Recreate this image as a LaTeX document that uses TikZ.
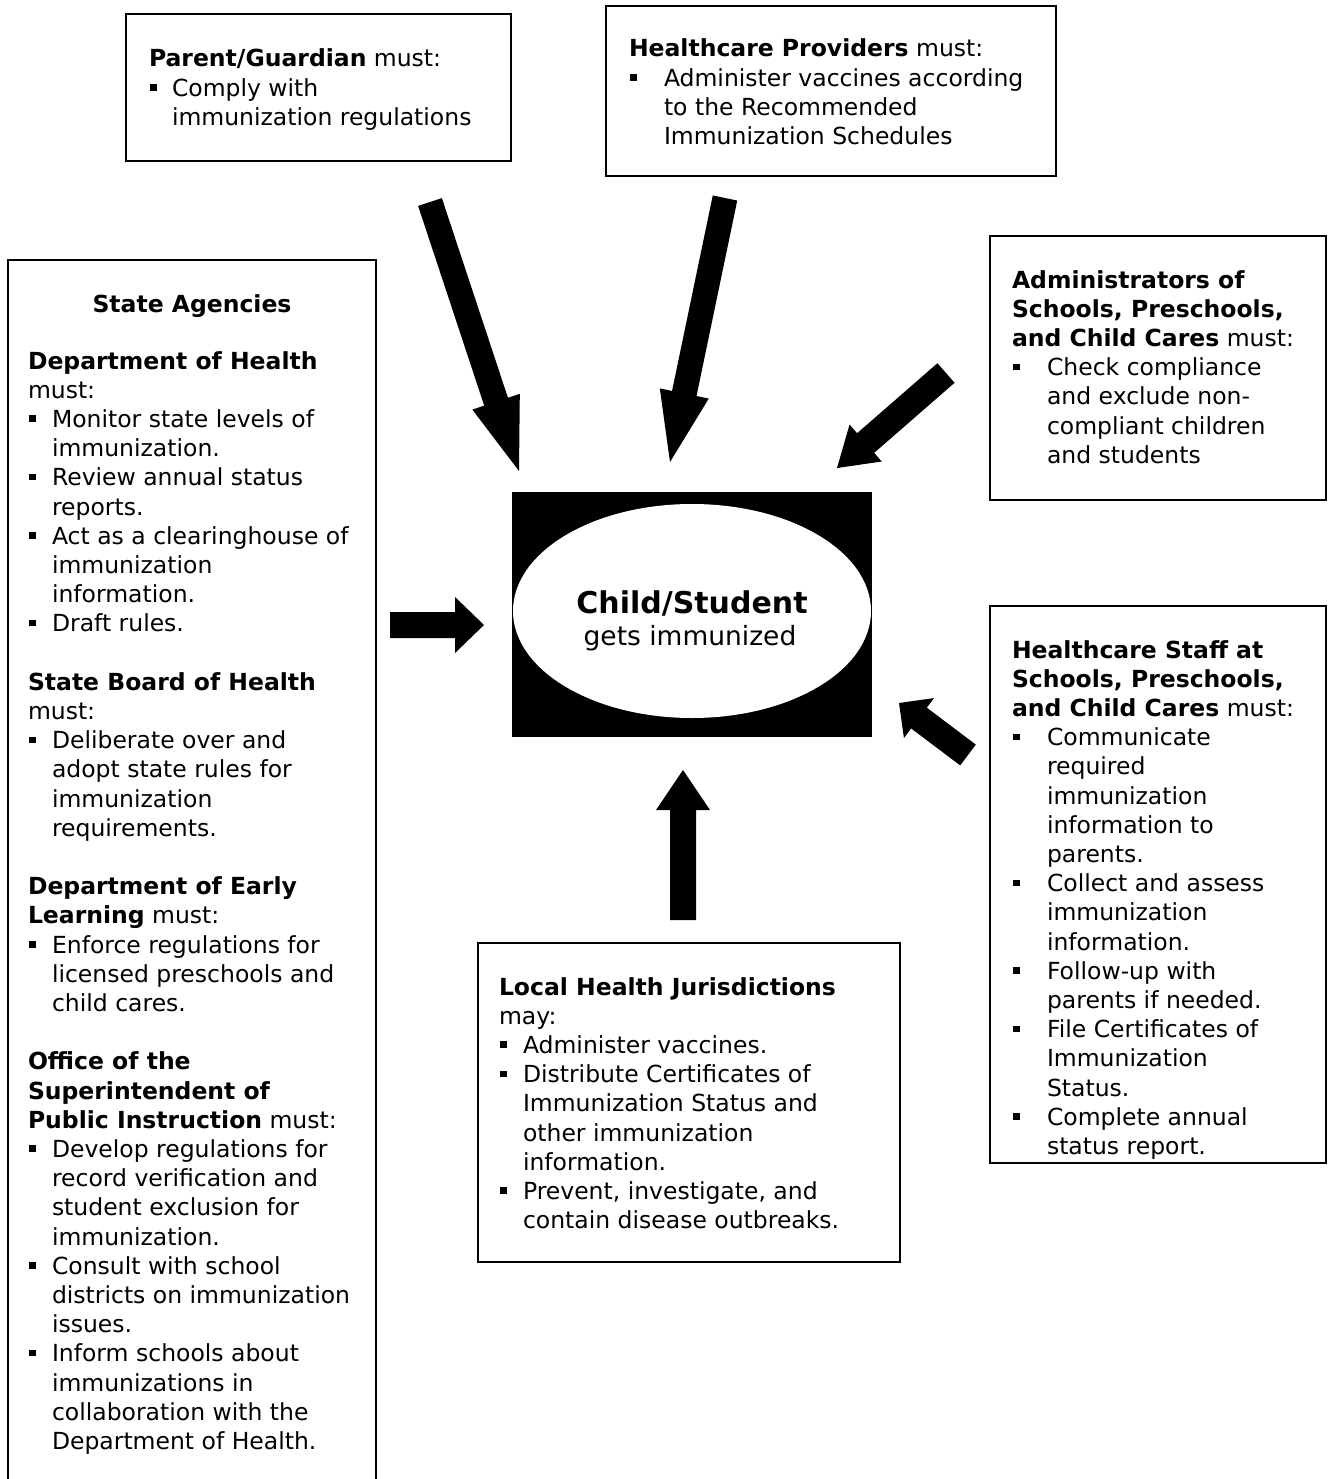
\documentclass[tikz,border=0pt]{standalone}
\usepackage{fontspec}
\setmainfont{DejaVu Sans}
\usetikzlibrary{calc,shapes.geometric}

\newcommand\sqbul{\raisebox{5.5pt}{\rule{6.5pt}{6.5pt}}}
\newcommand\bi[1]{\makebox[#1][l]{\hspace{1pt}\sqbul}}
\newcommand\ci[1]{\hspace*{#1}}
\newcommand\fst{\rule{0pt}{20pt}}
% tail, tip, half shaft, half head, head length
\newcommand\blockarrow[5]{%
  \coordinate (hb) at ($(#2)!#5!(#1)$);
  \fill[black] ($(#1)!#3!90:(#2)$) -- ($(hb)!#3!90:(#2)$) -- ($(hb)!#4!90:(#2)$) -- (#2)
     -- ($(hb)!#4!-90:(#2)$) -- ($(hb)!#3!-90:(#2)$) -- ($(#1)!#3!-90:(#2)$) -- cycle;}

\begin{document}
\begin{tikzpicture}[x=1pt,y=-1pt,
  box/.style={draw, line width=1.5pt, inner sep=0pt, outer sep=0pt, anchor=north west},
  tx/.style={inner sep=0pt, outer sep=0pt, anchor=north west, align=left,
             font=\fontsize{23.5}{29.2}\selectfont}]
\useasboundingbox (0,0) rectangle (1328,1479);
\fill[white] (0,0) rectangle (1328,1479);

% ---------- boxes ----------
\node[box, minimum width=385pt, minimum height=147pt] (pg) at (126,14) {};
\node[box, minimum width=450pt, minimum height=170pt] (hp) at (606,6) {};
\node[box, minimum width=336pt, minimum height=264pt] (ad) at (990,236) {};
\node[box, minimum width=336pt, minimum height=557pt] (hs) at (990,606) {};
\node[box, minimum width=422pt, minimum height=319pt] (lh) at (478,943) {};
\node[inner sep=0pt, outer sep=0pt, minimum width=368pt, minimum height=1230pt, anchor=north west] (sa) at (8,260) {};
\draw[line width=1.5pt] (sa.south west) -- (sa.north west) -- (sa.north east) -- (sa.south east);

% ---------- centre ----------
\node[fill=black, minimum width=360pt, minimum height=245pt, inner sep=0pt, anchor=north west] (cs) at (512,492) {};
\node[ellipse, fill=white, minimum width=358pt, minimum height=214pt, inner sep=0pt] (el) at (692,611) {};
\node[font=\fontsize{30}{36}\selectfont\bfseries, anchor=base, inner sep=0pt] (t1) at (692,613) {Child/Student};
\node[font=\fontsize{26.5}{32}\selectfont, anchor=base, inner sep=0pt] (t2) at (690,645) {gets immunized};

% ---------- texts ----------
\node[tx] (pgt) at (149,47) {\fst\textbf{Parent/Guardian} must:\\
\bi{23pt}Comply with\\
\ci{23pt}immunization regulations};

\node[tx] (hpt) at (629,37) {\fst\textbf{Healthcare Providers} must:\\
\bi{35pt}Administer vaccines according\\
\ci{35pt}to the Recommended\\
\ci{35pt}Immunization Schedules};

\node[tx] (adt) at (1012,268) {\fst\textbf{Administrators of}\\
\textbf{Schools, Preschools,}\\
\textbf{and Child Cares} must:\\
\bi{35pt}Check compliance\\
\ci{35pt}and exclude non-\\
\ci{35pt}compliant children\\
\ci{35pt}and students};

\node[tx] (hst) at (1012,638) {\fst\textbf{Healthcare Staff at}\\
\textbf{Schools, Preschools,}\\
\textbf{and Child Cares} must:\\
\bi{35pt}Communicate\\
\ci{35pt}required\\
\ci{35pt}immunization\\
\ci{35pt}information to\\
\ci{35pt}parents.\\
\bi{35pt}Collect and assess\\
\ci{35pt}immunization\\
\ci{35pt}information.\\
\bi{35pt}Follow-up with\\
\ci{35pt}parents if needed.\\
\bi{35pt}File Certificates of\\
\ci{35pt}Immunization\\
\ci{35pt}Status.\\
\bi{35pt}Complete annual\\
\ci{35pt}status report.};

\node[tx] (lht) at (499,975) {\fst\textbf{Local Health Jurisdictions}\\
may:\\
\bi{24pt}Administer vaccines.\\
\bi{24pt}Distribute Certificates of\\
\ci{24pt}Immunization Status and\\
\ci{24pt}other immunization\\
\ci{24pt}information.\\
\bi{24pt}Prevent, investigate, and\\
\ci{24pt}contain disease outbreaks.};

\node[font=\fontsize{23.5}{29.2}\selectfont\bfseries, anchor=base, inner sep=0pt] (sah) at (192,312) {State Agencies};

\node[tx] (sat) at (28,349) {\fst\textbf{Department of Health}\\
must:\\
\bi{24pt}Monitor state levels of\\
\ci{24pt}immunization.\\
\bi{24pt}Review annual status\\
\ci{24pt}reports.\\
\bi{24pt}Act as a clearinghouse of\\
\ci{24pt}immunization\\
\ci{24pt}information.\\
\bi{24pt}Draft rules.\\
\mbox{}\\
\textbf{State Board of Health}\\
must:\\
\bi{24pt}Deliberate over and\\
\ci{24pt}adopt state rules for\\
\ci{24pt}immunization\\
\ci{24pt}requirements.\\
\mbox{}\\
\textbf{Department of Early}\\
\textbf{Learning} must:\\
\bi{24pt}Enforce regulations for\\
\ci{24pt}licensed preschools and\\
\ci{24pt}child cares.\\
\mbox{}\\
\textbf{Office of the}\\
\textbf{Superintendent of}\\
\textbf{Public Instruction} must:\\
\bi{24pt}Develop regulations for\\
\ci{24pt}record verification and\\
\ci{24pt}student exclusion for\\
\ci{24pt}immunization.\\
\bi{24pt}Consult with school\\
\ci{24pt}districts on immunization\\
\ci{24pt}issues.\\
\bi{24pt}Inform schools about\\
\ci{24pt}immunizations in\\
\ci{24pt}collaboration with the\\
\ci{24pt}Department of Health.};

% ---------- arrows ----------
\coordinate (a1s) at (430,202);  \coordinate (a1e) at (519,471);
\coordinate (a2s) at (725,198);  \coordinate (a2e) at (670,462);
\coordinate (a3s) at (946,373);  \coordinate (a3e) at (837,468);
\coordinate (a4s) at (390,625);  \coordinate (a4e) at (484,625);
\coordinate (a5s) at (683,920);  \coordinate (a5e) at (683,770);
\coordinate (a6s) at (968,755);  \coordinate (a6e) at (899,703);
\blockarrow{a1s}{a1e}{12.5pt}{25pt}{73pt}
\blockarrow{a2s}{a2e}{12.5pt}{25pt}{70pt}
\blockarrow{a3s}{a3e}{13pt}{24.5pt}{38pt}
\blockarrow{a4s}{a4e}{13pt}{28pt}{29pt}
\blockarrow{a5s}{a5e}{13pt}{27pt}{40pt}
\blockarrow{a6s}{a6e}{13pt}{25pt}{25pt}
\end{tikzpicture}
\end{document}
